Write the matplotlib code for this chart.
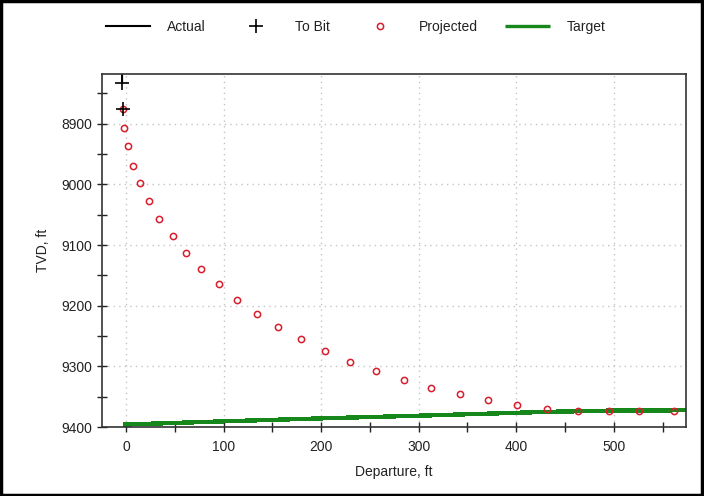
import matplotlib.pyplot as plt
from matplotlib.ticker import MultipleLocator
from matplotlib.patches import Rectangle

plt.rcParams['font.family'] = ['Liberation Sans', 'DejaVu Sans']

# survey above the window (mostly clipped)
actual_dep = [-4.5, -4.0]
actual_tvd = [8700, 8833]

tobit_dep = [-4.0, -3.0]
tobit_tvd = [8833, 8875]

proj_dep = [-3.0, -1.6, 2.5, 7.3, 14.4, 23.2, 34.2, 47.8, 61.1, 77.2,
            95.3, 113.7, 134.5, 156.3, 179.5, 204.1, 229.7, 256.3, 284.6, 312.6,
            342.0, 371.2, 401.3, 432.0, 463.4, 494.8, 525.5, 561.8]
proj_tvd = [8875, 8907, 8937, 8969, 8998, 9028, 9057, 9085, 9113, 9140,
            9165, 9190, 9213, 9235, 9255, 9275, 9292, 9308, 9322, 9336,
            9346, 9355, 9363, 9370, 9373, 9373, 9373, 9373]

target_dep = [-2.4, 113.0, 203.4, 312.6, 432.3, 494.8, 575.0]
target_tvd = [9396.0, 9390.0, 9385.6, 9380.8, 9375.0, 9373.0, 9372.4]

fig = plt.figure(figsize=(7.04, 4.96), dpi=100)
ax = fig.add_axes([0.1449, 0.1391, 0.8295, 0.7117])

ax.plot(actual_dep, actual_tvd, color='black', lw=1.5, label='Actual')
ax.plot(tobit_dep, tobit_tvd, ls='none', marker='+', ms=10, mew=1.2,
        color='black', label='To Bit', zorder=4)
ax.plot(proj_dep, proj_tvd, ls='none', marker='o', ms=4.5, mfc='none',
        mec='#d81e2c', mew=1.1, label='Projected', zorder=3)
ax.plot(target_dep, target_tvd, color='#16871a', lw=2.4, antialiased=False,
        solid_capstyle='butt', label='Target', zorder=2)

ax.set_xlim(-24.6, 574)
ax.set_ylim(9400, 8818)

ax.xaxis.set_major_locator(MultipleLocator(100))
ax.xaxis.set_minor_locator(MultipleLocator(50))
ax.yaxis.set_major_locator(MultipleLocator(100))
ax.yaxis.set_minor_locator(MultipleLocator(50))
ax.tick_params(which='both', direction='inout', length=7, width=1,
               color='#222222', labelsize=10, labelcolor='#222222')
ax.tick_params(axis='x', pad=6)

ax.grid(True, which='major', color='#c4c4c4', ls=(0, (1, 3)), lw=1)
for sp in ax.spines.values():
    sp.set_color('#333333')
    sp.set_linewidth(1.2)

ax.set_xlabel('Departure, ft', fontsize=10, color='#222222', labelpad=8)
ax.set_ylabel('TVD, ft', fontsize=10, color='#222222', labelpad=8)

ax.legend(loc='center', bbox_to_anchor=(0.505, 0.946), bbox_transform=fig.transFigure,
          ncol=4, frameon=False, fontsize=10, handlelength=3.2, handletextpad=1.2,
          columnspacing=2.0, labelcolor='#222222')

fig.patches.append(Rectangle((0.002, 0.002), 0.995, 0.995, transform=fig.transFigure,
                             fill=False, edgecolor='black', lw=2.5))

fig.savefig('out.png', dpi=100)
